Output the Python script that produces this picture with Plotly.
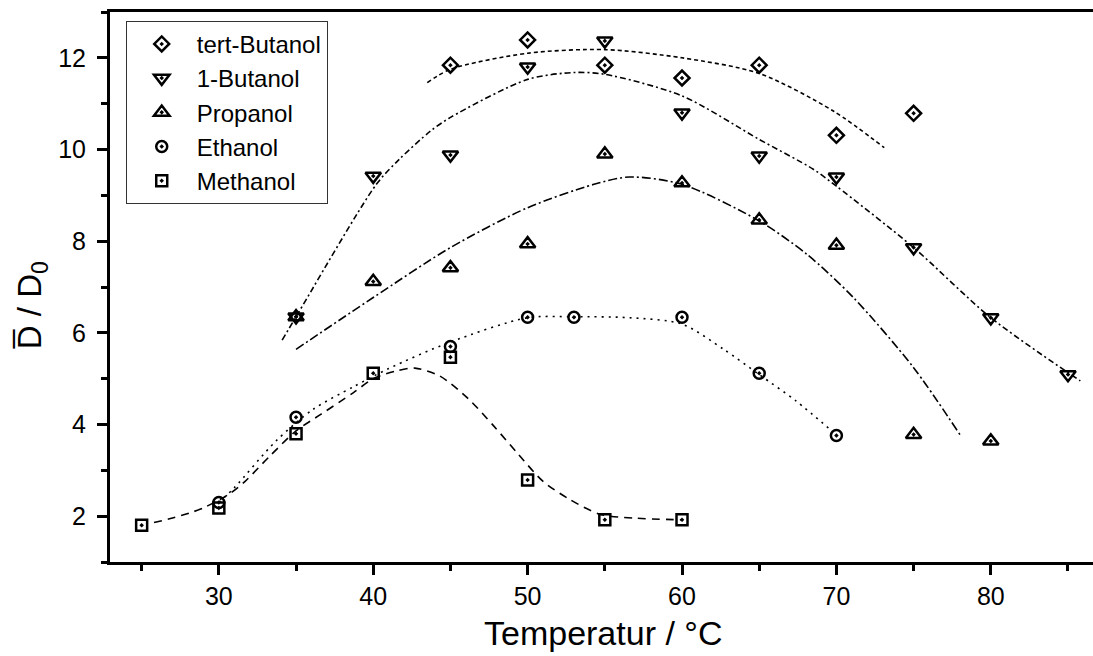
import plotly.graph_objects as go

# ---- measured data points ----
tbut_x = [45, 50, 55, 60, 65, 70, 75]
tbut_y = [11.84, 12.39, 11.84, 11.56, 11.84, 10.31, 10.79]

but1_x = [35, 40, 45, 50, 55, 60, 65, 70, 75, 80, 85]
but1_y = [6.35, 9.42, 9.88, 11.80, 12.37, 10.80, 9.86, 9.40, 7.86, 6.33, 5.09]

prop_x = [35, 40, 45, 50, 55, 60, 65, 70, 75, 80]
prop_y = [6.35, 7.12, 7.42, 7.94, 9.90, 9.27, 8.46, 7.91, 3.78, 3.64]

eth_x = [30, 35, 45, 50, 53, 60, 65, 70]
eth_y = [2.30, 4.16, 5.70, 6.34, 6.34, 6.34, 5.12, 3.76]

meth_x = [25, 30, 35, 40, 45, 50, 55, 60]
meth_y = [1.80, 2.18, 3.80, 5.12, 5.47, 2.79, 1.92, 1.92]

# ---- fit curves ----
tbut_fx = [43.5, 45, 50, 55, 60, 65, 69.8, 73.1]
tbut_fy = [11.46, 11.75, 12.10, 12.18, 12.00, 11.66, 10.84, 10.04]

but1_fx = [34.1, 35, 40.2, 41.7, 43.7, 45, 50, 53, 55, 60, 65, 68.5, 70, 75, 80, 85.8]
but1_fy = [5.84, 6.35, 9.24, 9.79, 10.40, 10.70, 11.53, 11.68, 11.64, 11.17, 10.22, 9.57, 9.20, 7.86, 6.33, 4.95]

prop_fx = [35.0, 40, 45, 50, 54.3, 56.6, 60, 65, 68.1, 71.1, 75, 78.0]
prop_fy = [5.64, 6.77, 7.86, 8.73, 9.24, 9.40, 9.24, 8.44, 7.71, 6.77, 5.24, 3.78]

eth_fx = [30, 31, 33.7, 36.1, 38.7, 41, 45, 50, 53, 56.6, 60, 62.7, 65, 67.4, 69.7]
eth_fy = [2.30, 2.62, 3.64, 4.33, 4.82, 5.22, 5.80, 6.33, 6.35, 6.33, 6.19, 5.64, 5.09, 4.51, 3.86]

meth_fx = [25.8, 27.0, 28.1, 29.0, 30.7, 31.7, 33.3, 35.0, 36.6, 38.7, 40, 41.5, 42.7, 44.3,
           46.1, 47.8, 49.4, 51.0, 52.7, 54.7, 56.8, 60]
meth_fy = [1.86, 1.96, 2.07, 2.18, 2.49, 2.76, 3.31, 3.86, 4.22, 4.69, 5.00, 5.17, 5.23, 5.06,
           4.58, 3.97, 3.35, 2.76, 2.37, 2.04, 1.96, 1.92]

names = ["tert-Butanol", "1-Butanol", "Propanol", "Ethanol", "Methanol"]
xs = [tbut_x, but1_x, prop_x, eth_x, meth_x]
ys = [tbut_y, but1_y, prop_y, eth_y, meth_y]
fxs = [tbut_fx, but1_fx, prop_fx, eth_fx, meth_fx]
fys = [tbut_fy, but1_fy, prop_fy, eth_fy, meth_fy]
symbols = ["diamond-open-dot", "triangle-down-open-dot", "triangle-up-open-dot",
           "circle-open-dot", "square-open-dot"]
msizes = [11.5, 13.5, 13.5, 11, 11]
dashes = ["4px,3px", "6px,3px,2px,3px", "9px,3px,2px,3px", "2px,5px", "8px,6px"]

fig = go.Figure()
for fx, fy, d in zip(fxs, fys, dashes):
    fig.add_trace(go.Scatter(x=fx, y=fy, mode="lines", showlegend=False,
                             line=dict(color="black", width=1.6, dash=d, shape="spline", smoothing=0.8),
                             hoverinfo="skip"))
for n, x, y, s, ms in zip(names, xs, ys, symbols, msizes):
    fig.add_trace(go.Scatter(x=x, y=y, mode="markers", name=n,
                             marker=dict(symbol=s, size=ms, color="black",
                                         line=dict(color="black", width=2.5))))

axfont = dict(family="Liberation Sans, Arial, sans-serif", size=25, color="black")
fig.update_xaxes(range=[22.95, 86.62], tickmode="linear", tick0=30, dtick=10,
                 ticks="outside", ticklen=10, tickwidth=2.5, tickcolor="black",
                 minor=dict(dtick=5, tick0=25, ticks="outside", ticklen=6, tickwidth=2.5, tickcolor="black"),
                 showline=True, linecolor="black", linewidth=3, mirror=True,
                 showgrid=False, zeroline=False, tickfont=axfont, ticklabelstandoff=0)
fig.update_yaxes(range=[1, 13], tickmode="linear", tick0=2, dtick=2,
                 ticks="outside", ticklen=10, tickwidth=2.5, tickcolor="black",
                 minor=dict(dtick=1, tick0=1, ticks="outside", ticklen=6, tickwidth=2.5, tickcolor="black"),
                 showline=True, linecolor="black", linewidth=3, mirror=False,
                 showgrid=False, zeroline=False, tickfont=axfont, ticklabelstandoff=6)

fig.add_annotation(text="Temperatur / °C", xref="paper", yref="paper",
                   x=0.5015, y=-0.130, xanchor="center", yanchor="middle", showarrow=False,
                   font=dict(family="Liberation Sans, Arial, sans-serif", size=34, color="black"))
fig.add_annotation(text="D\u0305 / D<sub>0</sub>", xref="paper", yref="paper",
                   x=-0.0793, y=0.467, xanchor="center", yanchor="middle", textangle=-90,
                   showarrow=False,
                   font=dict(family="Liberation Sans, Arial, sans-serif", size=33, color="black"))

fig.update_layout(
    width=1093, height=656,
    margin=dict(l=110, r=0, t=12, b=94),
    paper_bgcolor="white", plot_bgcolor="white",
    legend=dict(x=0.016, y=0.984, xanchor="left", yanchor="top",
                bgcolor="white", bordercolor="#333", borderwidth=1,
                font=dict(family="Liberation Sans, Arial, sans-serif", size=24, color="black"),
                itemwidth=60, tracegroupgap=0),
)

fig.write_html("out.html")
